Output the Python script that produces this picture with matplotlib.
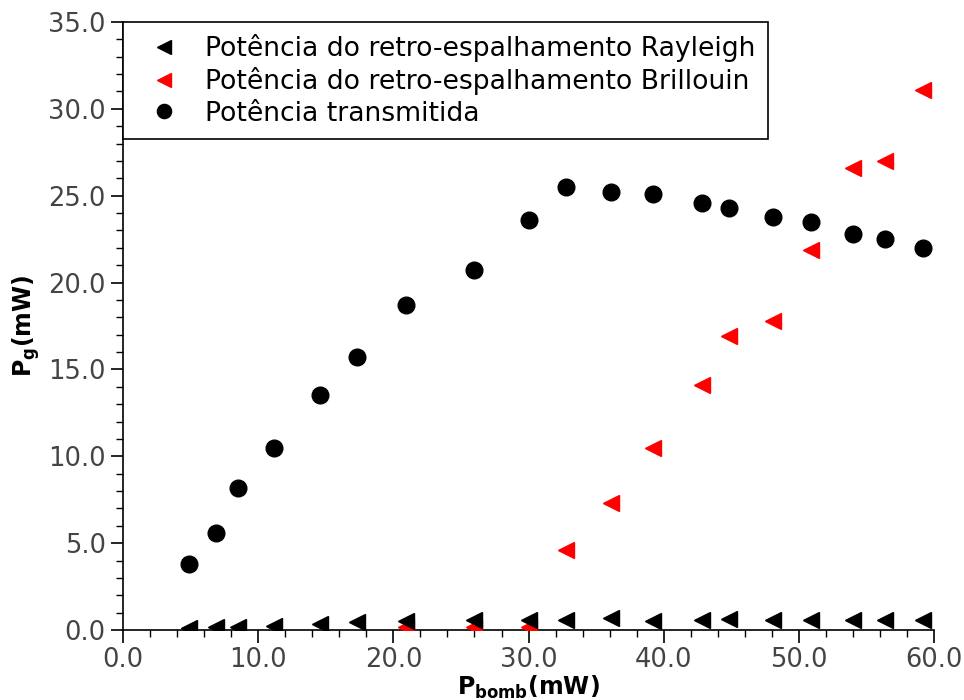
import numpy as np
import matplotlib
matplotlib.use("Agg")
import matplotlib.pyplot as plt
from matplotlib.ticker import MultipleLocator, FormatStrFormatter

# pump power (mW)
p_bomb = [4.9, 6.9, 8.5, 11.2, 14.6, 17.3, 20.9, 26.0, 30.0, 32.8,
          36.1, 39.2, 42.8, 44.8, 48.1, 50.9, 54.0, 56.4, 59.2]

# transmitted power (mW)
p_trans = [3.8, 5.6, 8.2, 10.5, 13.5, 15.7, 18.7, 20.7, 23.6, 25.5,
           25.2, 25.1, 24.6, 24.3, 23.8, 23.5, 22.8, 22.5, 22.0]

# Rayleigh backscatter (mW)
p_rayleigh = [0.1, 0.15, 0.2, 0.25, 0.35, 0.45, 0.5, 0.6, 0.6, 0.55,
              0.7, 0.5, 0.55, 0.65, 0.55, 0.55, 0.55, 0.55, 0.55]

# Brillouin backscatter (mW), starts at 20.9 mW
p_bomb_bril = p_bomb[6:]
p_brillouin = [0.15, 0.15, 0.2, 4.6, 7.3, 10.5, 14.1, 16.9, 17.8,
               21.9, 26.6, 27.0, 31.1]

plt.rcParams['font.family'] = 'DejaVu Sans'
plt.rcParams['mathtext.fontset'] = 'dejavusans'

fig = plt.figure(figsize=(9.64, 7.0), dpi=100)
ax = fig.add_axes([0.1276, 0.1, 0.969 - 0.1276, 0.8686])

ax.plot(p_bomb_bril, p_brillouin, linestyle='none', marker='<', color='red',
        markersize=12, label='Potência do retro-espalhamento Brillouin', zorder=3)
ax.plot(p_bomb, p_rayleigh, linestyle='none', marker='<', color='black',
        markersize=12, label='Potência do retro-espalhamento Rayleigh', zorder=4)
ax.plot(p_bomb, p_trans, linestyle='none', marker='o', color='black',
        markersize=12, label='Potência transmitida', zorder=4)

ax.set_xlim(0, 60)
ax.set_ylim(0, 35)
ax.xaxis.set_major_locator(MultipleLocator(10))
ax.xaxis.set_minor_locator(MultipleLocator(2))
ax.yaxis.set_major_locator(MultipleLocator(5))
ax.yaxis.set_minor_locator(MultipleLocator(1))
ax.xaxis.set_major_formatter(FormatStrFormatter('%.1f'))
ax.yaxis.set_major_formatter(FormatStrFormatter('%.1f'))

for side in ['top', 'right']:
    ax.spines[side].set_visible(False)
for side in ['left', 'bottom']:
    ax.spines[side].set_linewidth(1.2)

ax.tick_params(which='major', direction='out', length=9, width=1.2,
               labelsize=18.5, labelcolor='#444444')
ax.tick_params(which='minor', direction='out', length=5, width=1.0)

ax.set_xlabel(r'$\mathbf{P_{bomb}}$$\mathbf{(mW)}$', fontsize=17, labelpad=0)
ax.set_ylabel(r'$\mathbf{P_{g}}$$\mathbf{(mW)}$', fontsize=17, labelpad=4)

handles, labels = ax.get_legend_handles_labels()
order = [1, 0, 2]
leg = ax.legend([handles[i] for i in order], [labels[i] for i in order],
                loc='upper left', bbox_to_anchor=(0, 1), borderaxespad=0,
                fontsize=19.15, frameon=True, fancybox=False, framealpha=1,
                edgecolor='black', labelspacing=0.2, borderpad=0.45,
                handlelength=2.2, handletextpad=0.45, markerscale=0.85)
leg.get_frame().set_linewidth(1.2)
leg.set_zorder(5)

fig.savefig('out.png', dpi=100)
